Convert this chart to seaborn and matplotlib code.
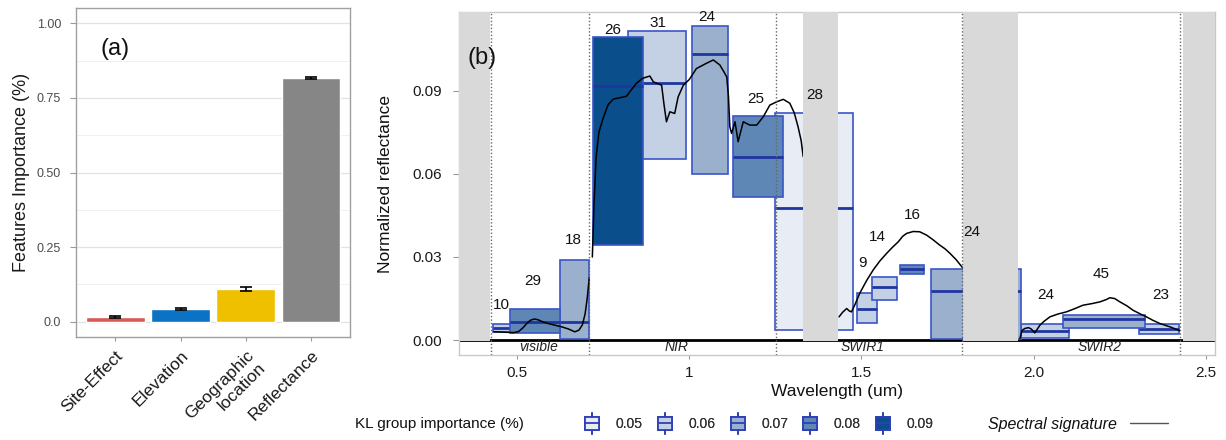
import numpy as np
import pandas as pd
import matplotlib
matplotlib.use("Agg")
import matplotlib.pyplot as plt
import seaborn as sns
from matplotlib.legend_handler import HandlerBase
from matplotlib.patches import Rectangle, Patch
from matplotlib.lines import Line2D

sns.set_style("white")
plt.rcParams['font.family'] = ['Liberation Sans', 'DejaVu Sans']

# ---------------- Panel (a) data ----------------
features = ["Site-Effect", "Elevation", "Geographic\nlocation", "Reflectance"]
importance = [0.015, 0.043, 0.109, 0.817]
importance_err = [0.003, 0.003, 0.006, 0.004]
feature_colors = ["#d95a55", "#0b72c4", "#efc000", "#868686"]
a_yticks = [0.0, 0.25, 0.50, 0.75, 1.00]
a_yticklabels = ["0.0", "0.25", "0.50", "0.75", "1.00"]

# ---------------- Panel (b) data ----------------
wl_visible = [0.433, 0.46, 0.49, 0.505, 0.518, 0.53, 0.54, 0.55, 0.56, 0.575, 0.59, 0.61,
              0.63, 0.65, 0.668, 0.68, 0.69, 0.698, 0.704, 0.71]
refl_visible = [0.0030, 0.0029, 0.0027, 0.0031, 0.0045, 0.0062, 0.0072, 0.0076, 0.0074, 0.0066,
                0.0060, 0.0054, 0.0048, 0.0040, 0.0030, 0.0036, 0.0055, 0.0095, 0.0150, 0.0225]
wl_nir = [0.719, 0.724, 0.730, 0.738, 0.75, 0.765, 0.78, 0.80, 0.818, 0.83, 0.847, 0.865, 0.886,
          0.896, 0.91, 0.92, 0.927, 0.934, 0.944, 0.958, 0.968, 0.983, 1.0, 1.021, 1.05, 1.07,
          1.089, 1.10, 1.109, 1.114, 1.118, 1.123, 1.133, 1.142, 1.157, 1.176, 1.196, 1.215,
          1.234, 1.254, 1.273, 1.292, 1.305, 1.316, 1.325, 1.331]
refl_nir = [0.030, 0.050, 0.066, 0.075, 0.080, 0.085, 0.087, 0.0875, 0.088, 0.090, 0.0927, 0.0945,
            0.0953, 0.0932, 0.0925, 0.0920, 0.085, 0.0788, 0.0824, 0.0818, 0.0878, 0.0920, 0.094,
            0.0980, 0.0999, 0.1011, 0.0993, 0.097, 0.0950, 0.088, 0.077, 0.0746, 0.0788, 0.0716,
            0.0788, 0.0776, 0.0776, 0.0806, 0.0848, 0.0860, 0.0869, 0.0855, 0.082, 0.077, 0.072,
            0.0662]
wl_swir1 = [1.435, 1.445, 1.457, 1.465, 1.471, 1.48, 1.495, 1.515, 1.534, 1.553, 1.573, 1.59,
            1.607, 1.62, 1.631, 1.65, 1.669, 1.689, 1.708, 1.727, 1.742, 1.757, 1.775, 1.795]
refl_swir1 = [0.0084, 0.0100, 0.0114, 0.0105, 0.0102, 0.0125, 0.0169, 0.0215, 0.0253, 0.0285,
              0.0313, 0.0335, 0.0355, 0.0375, 0.0385, 0.0392, 0.0391, 0.0379, 0.0362, 0.0343,
              0.0330, 0.0313, 0.0290, 0.0259]
wl_swir2 = [1.960, 1.966, 1.974, 1.985, 1.993, 2.003, 2.018, 2.03, 2.047, 2.07, 2.095, 2.12,
            2.143, 2.17, 2.192, 2.21, 2.221, 2.235, 2.25, 2.27, 2.288, 2.31, 2.327, 2.345,
            2.366, 2.395, 2.424]
refl_swir2 = [0.0006, 0.0035, 0.0042, 0.0045, 0.0040, 0.0026, 0.0054, 0.0068, 0.0084, 0.0094,
              0.0102, 0.0114, 0.0126, 0.0132, 0.0138, 0.0146, 0.0153, 0.0150, 0.0138, 0.0124,
              0.0108, 0.0094, 0.0084, 0.0072, 0.0060, 0.0048, 0.0034]

group_labels = ["10", "29", "18", "26", "31", "24", "25", "28", "9", "14", "16", "24", "24", "45", "23"]
group_xmin = [0.431, 0.480, 0.625, 0.721, 0.823, 1.007, 1.128, 1.249, 1.4875, 1.531, 1.611, 1.701, 1.962, 2.085, 2.306]
group_xmax = [0.4875, 0.625, 0.708, 0.865, 0.990, 1.113, 1.271, 1.476, 1.5455, 1.602, 1.681, 1.962, 2.103, 2.322, 2.422]
group_low = [0.0028, 0.0024, 0.0003, 0.0343, 0.0652, 0.0599, 0.0517, 0.0036, 0.0062, 0.0144, 0.0237, 0.0003, 0.0006, 0.0042, 0.0021]
group_high = [0.0058, 0.0111, 0.0289, 0.1095, 0.1116, 0.1134, 0.0809, 0.0818, 0.0171, 0.0229, 0.0271, 0.0255, 0.0058, 0.0090, 0.0058]
group_median = [0.0042, 0.0066, 0.0066, 0.0917, 0.0929, 0.1031, 0.0662, 0.0475, 0.0114, 0.0190, 0.0255, 0.0177, 0.0032, 0.0075, 0.0039]
group_importance = [0.06, 0.08, 0.07, 0.09, 0.06, 0.07, 0.08, 0.05, 0.06, 0.06, 0.08, 0.07, 0.06, 0.07, 0.06]
group_label_x = [0.456, 0.547, 0.663, 0.779, 0.908, 1.050, 1.193, 1.365, 1.503, 1.546, 1.648, 1.821, 2.034, 2.197, 2.368]
group_label_y = [0.0126, 0.0213, 0.0361, 0.1119, 0.1145, 0.1167, 0.087, 0.0884, 0.0277, 0.0371, 0.0451, 0.0391, 0.0162, 0.0238, 0.0162]

importance_levels = [0.05, 0.06, 0.07, 0.08, 0.09]
importance_colors = ["#e8ecf4", "#c4d1e4", "#9ab0cc", "#5f87b5", "#0b4e8c"]

gap_start = [0.30, 1.330, 1.794, 2.433]
gap_end = [0.422, 1.431, 1.954, 2.60]
region_bounds = [0.424, 0.708, 1.252, 1.793, 2.424]
region_names = ["visible", "NIR", "SWIR1", "SWIR2"]
region_label_x = [0.564, 0.963, 1.504, 2.19]

b_xticks = [0.5, 1.0, 1.5, 2.0, 2.5]
b_xticklabels = ["0.5", "1", "1.5", "2.0", "2.5"]
b_yticks = [0.0, 0.03, 0.06, 0.09]
b_yticklabels = ["0.00", "0.03", "0.06", "0.09"]

# ---------------- Figure ----------------
fig = plt.figure(figsize=(12.26, 4.40), dpi=100)
ax1 = fig.add_axes([0.0622, 0.2348, 0.2233, 0.746])
ax2 = fig.add_axes([0.3744, 0.193, 0.6166, 0.779])

# ----- Panel (a) -----
df_a = pd.DataFrame({"feature": features, "importance": importance})
sns.barplot(data=df_a, x="feature", y="importance", hue="feature", palette=feature_colors,
            legend=False, width=0.9, errorbar=None, ax=ax1, zorder=2, saturation=1)
ax1.errorbar(x=np.arange(len(features)), y=importance, yerr=importance_err, fmt="none",
             ecolor="black", elinewidth=1.2, capsize=4, capthick=1.2, zorder=3)
ax1.set_xlim(-0.6, 3.6)
ax1.set_ylim(-0.05, 1.05)
ax1.set_yticks(a_yticks)
ax1.set_yticklabels(a_yticklabels)
ax1.set_yticks([0.125, 0.375, 0.625, 0.875], minor=True)
ax1.grid(axis="y", which="major", color="#e2e2e2", linewidth=0.9, zorder=0)
ax1.grid(axis="y", which="minor", color="#eeeeee", linewidth=0.6, zorder=0)
ax1.set_axisbelow(True)
ax1.set_xlabel("")
ax1.set_ylabel("Features Importance (%)", fontsize=13, color="#1a1a1a", labelpad=5)
ax1.tick_params(axis="y", which="major", labelsize=9, labelcolor="#4d4d4d", color="#999999",
                length=4, width=0.8, left=True, pad=7)
ax1.tick_params(axis="y", which="minor", length=0)
ax1.tick_params(axis="x", labelsize=12.5, labelcolor="#1a1a1a", color="#999999", length=3,
                width=0.8, bottom=True, pad=5)
for lab in ax1.get_xticklabels():
    lab.set_rotation(45)
    lab.set_ha("right")
    lab.set_rotation_mode("anchor")
for s in ax1.spines.values():
    s.set_color("#a0a0a0")
    s.set_linewidth(1.0)
ax1.text(0, 0.915, "(a)", ha="center", va="center", fontsize=17, color="#111111")

# ----- Panel (b) -----
ax2.set_xlim(0.332, 2.526)
ax2.set_ylim(-0.0054, 0.1183)

# zero line
ax2.axhline(0, color="black", linewidth=2.0, zorder=1)

# group boxes (drawn by importance so darker ones sit on top)
order = np.argsort(group_importance, kind="stable")
for i in order:
    col = importance_colors[importance_levels.index(group_importance[i])]
    z = 2 + importance_levels.index(group_importance[i]) * 0.1
    ax2.bar(group_xmin[i], group_high[i] - group_low[i], width=group_xmax[i] - group_xmin[i],
            bottom=group_low[i], align="edge", color=col, edgecolor="#3a55c8",
            linewidth=1.2, zorder=z)
    ax2.hlines(group_median[i], group_xmin[i], group_xmax[i], color="#1f35a0",
               linewidth=2.0, zorder=z + 0.05)

# spectral signature
seg_frames = []
for name, w, r in [("visible", wl_visible, refl_visible), ("NIR", wl_nir, refl_nir),
                   ("SWIR1", wl_swir1, refl_swir1), ("SWIR2", wl_swir2, refl_swir2)]:
    seg_frames.append(pd.DataFrame({"wl": w, "refl": r, "segment": name}))
df_line = pd.concat(seg_frames, ignore_index=True)
sns.lineplot(data=df_line, x="wl", y="refl", units="segment", estimator=None, color="black",
             linewidth=1.1, ax=ax2, zorder=5, legend=False)

# absorption gaps
for g0, g1 in zip(gap_start, gap_end):
    ax2.bar(g0, 0.1183 + 0.0003, width=g1 - g0, bottom=-0.0003, align="edge",
            color="#d9d9d9", linewidth=0, zorder=6)

# region boundaries
for xb in region_bounds:
    ax2.axvline(xb, color="#666666", linewidth=1.0, linestyle=(0, (1, 1.5)), zorder=6.5)
for nm, xl in zip(region_names, region_label_x):
    ax2.text(xl, -0.0026, nm, ha="center", va="center", fontsize=10, style="italic",
             color="#222222", zorder=7)

# group labels
for lab, lx, ly in zip(group_labels, group_label_x, group_label_y):
    ax2.text(lx, ly, lab, ha="center", va="center", fontsize=11, color="#111111", zorder=8)

ax2.text(0.398, 0.1017, "(b)", ha="center", va="center", fontsize=17, color="#111111", zorder=8)

ax2.set_xticks(b_xticks)
ax2.set_xticklabels(b_xticklabels)
ax2.set_yticks(b_yticks)
ax2.set_yticklabels(b_yticklabels)
ax2.tick_params(axis="y", labelsize=11, labelcolor="#1a1a1a", color="#999999",
                length=4, width=0.8, left=True, pad=8)
ax2.tick_params(axis="x", labelsize=11, labelcolor="#1a1a1a", color="#999999",
                length=3, width=0.8, bottom=True, pad=5)
ax2.set_xlabel("Wavelength (um)", fontsize=12.5, color="#111111", labelpad=3)
ax2.set_ylabel("Normalized reflectance", fontsize=12.5, color="#111111", labelpad=14)
for s in ax2.spines.values():
    s.set_color("#c8c8c8")
    s.set_linewidth(1.0)


# ----- Legend -----
class BoxHandler(HandlerBase):
    def create_artists(self, legend, orig_handle, xdescent, ydescent, width, height,
                       fontsize, trans):
        fc = orig_handle.get_facecolor()
        cx = -xdescent + width / 2
        cy = -ydescent + height / 2
        bw = width
        bh = 9.5
        rect = Rectangle((cx - bw / 2, cy - bh / 2), bw, bh, facecolor=fc,
                         edgecolor="#2f3fb8", linewidth=1.3, transform=trans)
        med = Line2D([cx - bw / 2, cx + bw / 2], [cy, cy], color="#2f3fb8",
                     linewidth=1.3, transform=trans)
        w1 = Line2D([cx, cx], [cy + bh / 2, cy + bh / 2 + 3], color="#2f3fb8",
                    linewidth=1.3, transform=trans)
        w2 = Line2D([cx, cx], [cy - bh / 2, cy - bh / 2 - 3], color="#2f3fb8",
                    linewidth=1.3, transform=trans)
        return [rect, med, w1, w2]


handles = [Patch(facecolor=c) for c in importance_colors]
labels = ["%.2f" % v for v in importance_levels]
fig.text(355 / 1226, 0.036, "KL group importance (%)", ha="left", va="center",
         fontsize=11, color="#111111")
leg1 = fig.legend(handles, labels, handler_map={Patch: BoxHandler()}, loc="center left",
                  bbox_to_anchor=(578 / 1226, 0.036), ncol=5, frameon=False, borderpad=0,
                  fontsize=10, handlelength=1.0, handletextpad=1.2, columnspacing=1.1,
                  labelcolor="#333333")
fig.add_artist(leg1)
line_handle = Line2D([], [], color="#555555", linewidth=1.0)
leg2 = fig.legend([line_handle], ["Spectral signature"], loc="center left",
                  bbox_to_anchor=(980 / 1226, 0.036), frameon=False, borderpad=0,
                  markerfirst=False, handlelength=2.4, handletextpad=0.8,
                  prop={"size": 11.5, "style": "italic"}, labelcolor="#111111")

fig.savefig("out.png", dpi=100)
